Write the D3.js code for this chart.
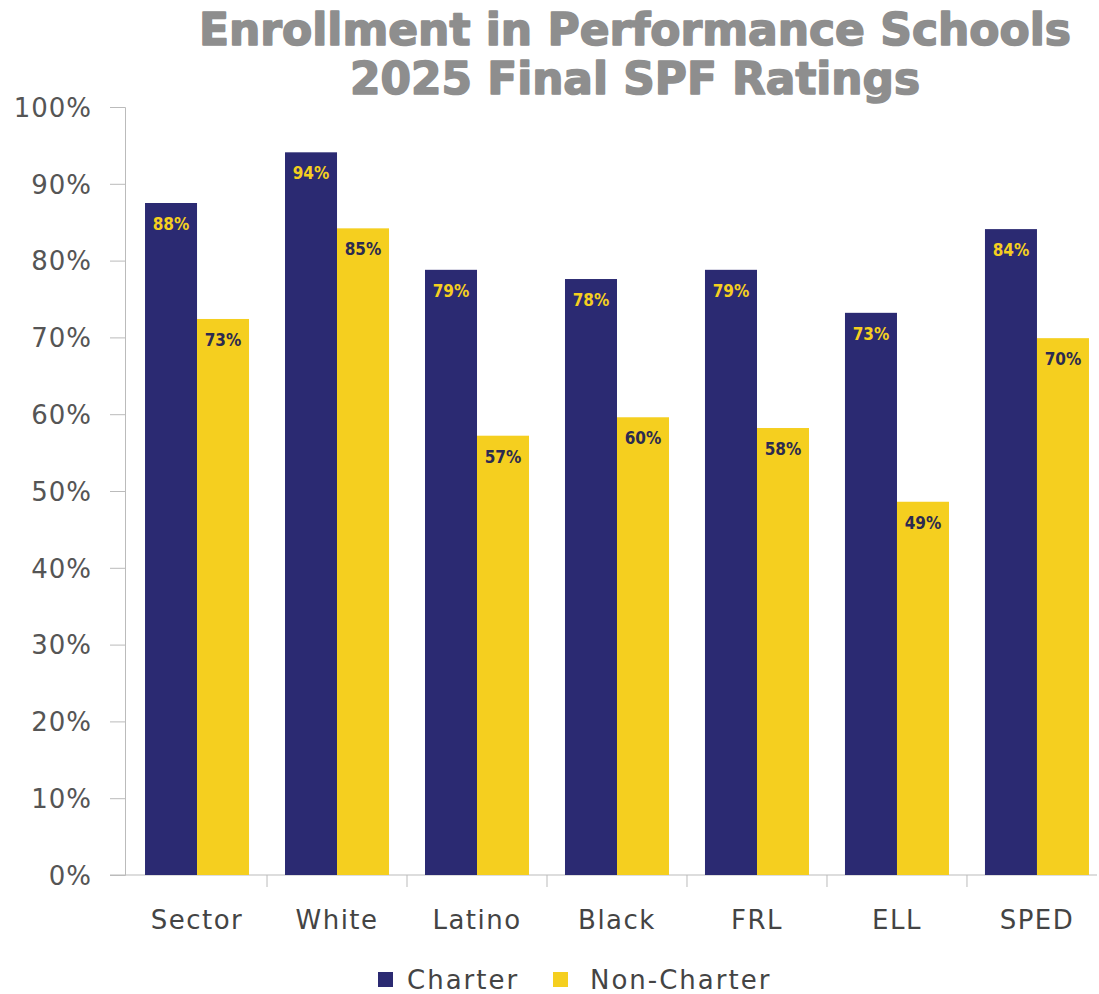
<!DOCTYPE html>
<html><head><meta charset="utf-8">
<script src="https://cdn.jsdelivr.net/npm/d3@7"></script>
<style>body{margin:0;background:#fff}</style>
</head><body>
<svg id="chart" width="1099" height="994"></svg>
<script>
const categories = ["Sector","White","Latino","Black","FRL","ELL","SPED"];
const charterValues = [87.5, 94.1, 78.8, 77.6, 78.8, 73.2, 84.1];
const nonCharterValues = [72.4, 84.2, 57.2, 59.6, 58.2, 48.6, 69.9];
const charterLabels = ["88%","94%","79%","78%","79%","73%","84%"];
const nonCharterLabels = ["73%","85%","57%","60%","58%","49%","70%"];
const yTicks = [0,10,20,30,40,50,60,70,80,90,100];
const seriesNames = ["Charter","Non-Charter"];
const titleLines = ["Enrollment in Performance Schools","2025 Final SPF Ratings"];

const colors = {Charter:"#2b2a72","Non-Charter":"#f5cf1f"};
const svg = d3.select("#chart");
const x0 = 125, x1 = 1109, yTop = 107, yBot = 875;

const x = d3.scaleBand().domain(categories).range([x0, x1]).paddingInner(0.257).paddingOuter(0.143);
const xs = d3.scaleBand().domain(seriesNames).range([0, x.bandwidth()]);
const y = d3.scaleLinear().domain([0,100]).range([yBot, yTop]);

// title
svg.selectAll("text.title").data(titleLines).join("text")
  .attr("class","title")
  .attr("x", 635).attr("y",(d,i)=> i===0 ? 45 : 94)
  .attr("text-anchor","middle")
  .attr("font-family","'DejaVu Sans', sans-serif").attr("font-weight","bold")
  .attr("font-size",44).attr("fill","#8e8e8e")
  .attr("stroke","#8e8e8e").attr("stroke-width",1.6).attr("stroke-linejoin","round")
  .attr("textLength",(d,i)=> i===0 ? 872 : 570).attr("lengthAdjust","spacingAndGlyphs")
  .text(d=>d);

// y axis
const yAxis = d3.axisLeft(y).tickValues(yTicks).tickFormat(d=>d+"%").tickSize(15).tickPadding(18);
const gy = svg.append("g").attr("transform",`translate(${x0},0)`).call(yAxis);
gy.select(".domain").attr("stroke","#bbb");
gy.selectAll(".tick line").attr("stroke","#bbb");
gy.selectAll(".tick text").attr("font-family","'DejaVu Sans', sans-serif").attr("font-size",26)
  .attr("fill","#555").attr("letter-spacing","1px").attr("dy","0.36em");

// x axis
const gx = svg.append("g").attr("transform",`translate(0,${yBot})`);
gx.append("line").attr("x1",110).attr("x2",1097).attr("stroke","#bbb");
gx.selectAll("line.sep").data(categories.slice(1)).join("line").attr("class","sep")
  .attr("x1",d=>x(d)-(x.step()-x.bandwidth())/2).attr("x2",d=>x(d)-(x.step()-x.bandwidth())/2)
  .attr("y1",0).attr("y2",12).attr("stroke","#bbb");
gx.selectAll("text").data(categories).join("text")
  .attr("x",d=>x(d)+x.bandwidth()/2).attr("y",54)
  .attr("text-anchor","middle").attr("font-family","'DejaVu Sans', sans-serif")
  .attr("font-size",26).attr("letter-spacing","1.5px").attr("fill","#444").text(d=>d);

// bars
const rows = categories.map((c,i)=>({cat:c, vals:[
  {s:"Charter", v:charterValues[i], l:charterLabels[i]},
  {s:"Non-Charter", v:nonCharterValues[i], l:nonCharterLabels[i]}]}));
const g = svg.selectAll("g.grp").data(rows).join("g").attr("class","grp")
  .attr("transform",d=>`translate(${x(d.cat)},0)`);
g.selectAll("rect").data(d=>d.vals).join("rect")
  .attr("x",d=>xs(d.s)).attr("width",xs.bandwidth())
  .attr("y",d=>y(d.v)).attr("height",d=>yBot-y(d.v))
  .attr("fill",d=>colors[d.s]);
g.selectAll("text").data(d=>d.vals).join("text")
  .attr("x",d=>xs(d.s)+xs.bandwidth()/2).attr("y",d=>y(d.v)+27)
  .attr("text-anchor","middle")
  .attr("font-family","'Liberation Sans Narrow','DejaVu Sans Condensed',sans-serif")
  .attr("font-weight","bold").attr("font-size",17)
  .attr("fill",d=> d.s==="Charter" ? "#f5cf1f" : "#2b2a50")
  .text(d=>d.l);

// legend
const legendX = [378, 553];
const legendTextOffset = [29, 37];
const lg = svg.selectAll("g.leg").data(seriesNames).join("g").attr("class","leg")
  .attr("transform",(d,i)=>`translate(${legendX[i]},0)`);
lg.append("rect").attr("x",0).attr("y",972).attr("width",15).attr("height",15).attr("fill",d=>colors[d]);
lg.append("text").attr("x",(d,i)=>legendTextOffset[i]).attr("y",989).attr("font-family","'DejaVu Sans', sans-serif")
  .attr("font-size",26).attr("fill","#444").attr("letter-spacing","2px").text(d=>d);
</script>
</body></html>
